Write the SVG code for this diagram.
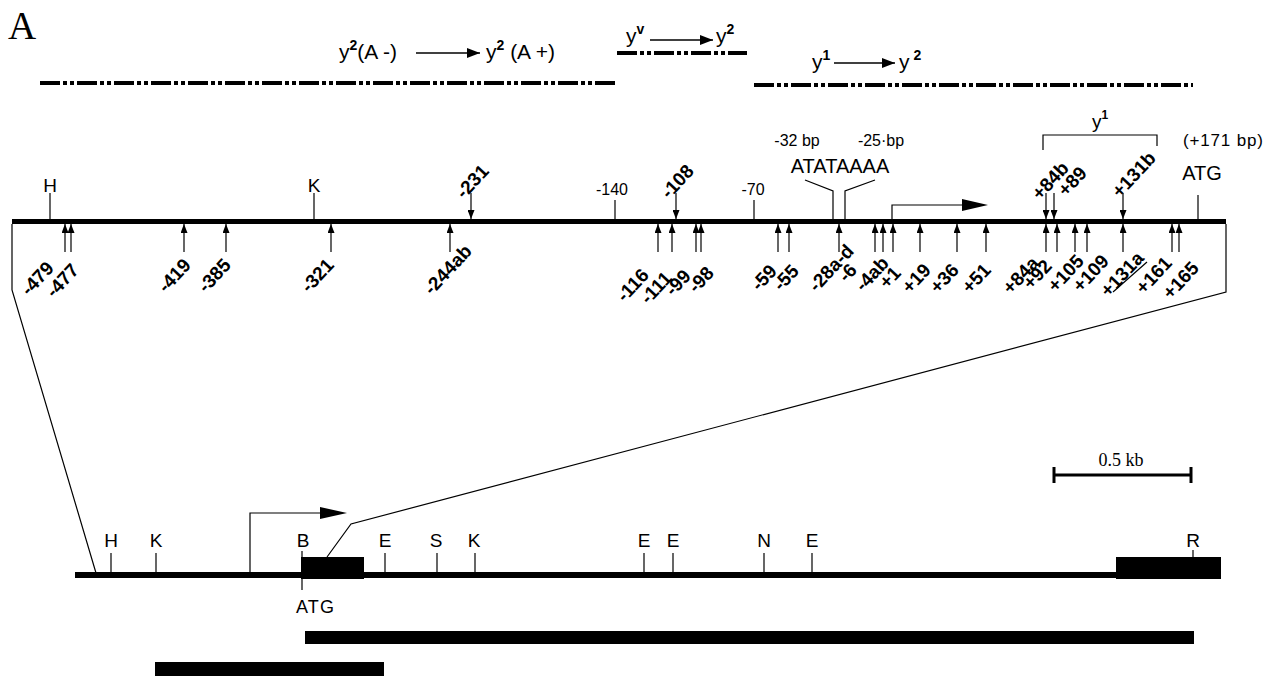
<svg xmlns="http://www.w3.org/2000/svg" width="1280" height="678" viewBox="0 0 1280 678">
<defs>
<marker id="ah" markerUnits="userSpaceOnUse" markerWidth="9" markerHeight="7" refX="9" refY="3.5" orient="auto"><path d="M0,0 L9,3.5 L0,7 z" fill="#000"/></marker>
<marker id="ah2" markerUnits="userSpaceOnUse" markerWidth="13" markerHeight="10" refX="13" refY="5" orient="auto"><path d="M0,0 L13,5 L0,10 z" fill="#000"/></marker>
</defs>
<style>
text{font-family:"Liberation Sans",Arial,sans-serif;fill:#000}
.ddl{stroke:#000;stroke-width:4;stroke-dasharray:20 3 4 3 4 3;fill:none}
.ln{stroke:#000;stroke-width:1.2;fill:none}
.arr{stroke:#000;stroke-width:1.2;fill:none;marker-end:url(#ah)}
.big{stroke:#000;stroke-width:1.3;fill:none;marker-end:url(#ah2)}
.lab{font-size:19px;font-weight:bold;text-anchor:end}
.site{font-size:19px}
.sm{font-size:16px}
.tt{font-size:21px}
</style>
<rect width="1280" height="678" fill="#fff"/>
<text x="8" y="39" style="font-family:'Liberation Serif',serif;font-size:39px">A</text>

<g id="conversions">
<line class="ddl" x1="40" y1="83" x2="617" y2="83"/>
<line class="ddl" x1="617" y1="53" x2="747" y2="53"/>
<line class="ddl" x1="754" y1="85" x2="1193" y2="85"/>
<text class="tt" x="339" y="59">y<tspan font-size="14" font-weight="bold" dy="-9">2</tspan><tspan dy="9">(A -)</tspan></text>
<line class="big" x1="416" y1="53" x2="480" y2="53"/>
<text class="tt" x="486" y="59">y<tspan font-size="14" font-weight="bold" dy="-9">2</tspan><tspan dy="9"> (A +)</tspan></text>
<text class="tt" x="626" y="43">y<tspan font-size="14" font-weight="bold" dy="-9">v</tspan></text>
<line class="big" x1="650" y1="40" x2="713" y2="40"/>
<text class="tt" x="716" y="43">y<tspan font-size="14" font-weight="bold" dy="-9">2</tspan></text>
<text class="tt" x="812" y="69">y<tspan font-size="14" font-weight="bold" dy="-9">1</tspan></text>
<line class="big" x1="834" y1="63" x2="895" y2="63"/>
<text class="tt" x="899" y="69">y<tspan font-size="14" font-weight="bold" dy="-9"> 2</tspan></text>
</g>

<g id="main-map">
<rect x="12" y="219" width="1214" height="5" fill="#000"/>
<line class="ln" x1="50" y1="193" x2="50" y2="220"/>
<text class="site" x="50" y="192" text-anchor="middle">H</text>
<line class="ln" x1="314" y1="193" x2="314" y2="220"/>
<text class="site" x="314" y="192" text-anchor="middle">K</text>
<line class="ln" x1="615" y1="200" x2="615" y2="220"/>
<text class="sm" x="612" y="195" text-anchor="middle">-140</text>
<line class="ln" x1="754" y1="200" x2="754" y2="220"/>
<text class="sm" x="753" y="195" text-anchor="middle">-70</text>
<line class="ln" x1="1198" y1="195" x2="1198" y2="220"/>
<text x="1202" y="180" text-anchor="middle" style="font-size:20px">ATG</text>
<text x="1223" y="146" text-anchor="middle" style="font-size:17px" textLength="80">(+171 bp)</text>
<polyline class="ln" points="805,180 833,191 833,220"/>
<polyline class="ln" points="875,180 845,191 845,220"/>
<text x="840" y="173" text-anchor="middle" style="font-size:20px">ATATAAAA</text>
<text class="sm" x="797" y="146" text-anchor="middle">-32 bp</text>
<text class="sm" x="881" y="146" text-anchor="middle">-25·bp</text>
<path class="ln" d="M892,220 V205 H965"/>
<polygon points="962,199 988,205 962,211" fill="#000"/>
<polyline class="ln" points="1043,150 1043,135 1157,135 1157,146"/>
<text x="1092" y="128" style="font-size:19px">y<tspan font-size="12" font-weight="bold" dy="-9">1</tspan></text>
</g>

<g id="connectors">
<line class="arr" x1="471" y1="193" x2="471" y2="219"/>
<line class="arr" x1="676" y1="193" x2="676" y2="219"/>
<line class="arr" x1="1046" y1="193" x2="1046" y2="219"/>
<line class="arr" x1="1054" y1="193" x2="1054" y2="219"/>
<line class="arr" x1="1123" y1="193" x2="1123" y2="219"/>
<line class="arr" x1="65" y1="252" x2="65" y2="224"/>
<line class="arr" x1="71" y1="252" x2="71" y2="224"/>
<line class="arr" x1="184" y1="252" x2="184" y2="224"/>
<line class="arr" x1="226" y1="252" x2="226" y2="224"/>
<line class="arr" x1="331" y1="252" x2="331" y2="224"/>
<line class="arr" x1="450" y1="252" x2="450" y2="224"/>
<line class="arr" x1="658" y1="252" x2="658" y2="224"/>
<line class="arr" x1="672" y1="252" x2="672" y2="224"/>
<line class="arr" x1="696" y1="252" x2="696" y2="224"/>
<line class="arr" x1="701" y1="252" x2="701" y2="224"/>
<line class="arr" x1="778" y1="252" x2="778" y2="224"/>
<line class="arr" x1="789" y1="252" x2="789" y2="224"/>
<line class="arr" x1="839" y1="252" x2="839" y2="224"/>
<line class="arr" x1="875" y1="252" x2="875" y2="224"/>
<line class="arr" x1="883" y1="252" x2="883" y2="224"/>
<line class="arr" x1="893" y1="252" x2="893" y2="224"/>
<line class="arr" x1="920" y1="252" x2="920" y2="224"/>
<line class="arr" x1="957" y1="252" x2="957" y2="224"/>
<line class="arr" x1="986" y1="252" x2="986" y2="224"/>
<line class="arr" x1="1046" y1="252" x2="1046" y2="224"/>
<line class="arr" x1="1057" y1="252" x2="1057" y2="224"/>
<line class="arr" x1="1075" y1="252" x2="1075" y2="224"/>
<line class="arr" x1="1087" y1="252" x2="1087" y2="224"/>
<line class="arr" x1="1123" y1="252" x2="1123" y2="224"/>
<line class="arr" x1="1172" y1="252" x2="1172" y2="224"/>
<line class="arr" x1="1179" y1="252" x2="1179" y2="224"/>
<polyline class="ln" points="12,224 12,290 96,573"/>
<polyline class="ln" points="1226,224 1226,292 351,524 327,557"/>
</g>

<g id="labels-above">
<text class="lab" transform="translate(490,172) rotate(-47)">-231</text>
<text class="lab" transform="translate(695,172) rotate(-47)">-108</text>
<text class="lab" transform="translate(1070,169) rotate(-47)">+84b</text>
<text class="lab" transform="translate(1088,174) rotate(-47)">+89</text>
<text class="lab" transform="translate(1157,159) rotate(-47)">+131b</text>
</g>

<g id="labels-below">
<text class="lab" transform="translate(55,269) rotate(-47)">-479</text>
<text class="lab" transform="translate(80,271) rotate(-47)">-477</text>
<text class="lab" transform="translate(192,266) rotate(-47)">-419</text>
<text class="lab" transform="translate(232,266) rotate(-47)">-385</text>
<text class="lab" transform="translate(335,266) rotate(-47)">-321</text>
<text class="lab" transform="translate(473,252) rotate(-47)">-244ab</text>
<text class="lab" transform="translate(650,276) rotate(-47)">-116</text>
<text class="lab" transform="translate(673,279) rotate(-47)">-111</text>
<text class="lab" transform="translate(692,277) rotate(-47)">-99</text>
<text class="lab" transform="translate(715,274) rotate(-47)">-98</text>
<text class="lab" transform="translate(778,272) rotate(-47)">-59</text>
<text class="lab" transform="translate(800,272) rotate(-47)">-55</text>
<text class="lab" transform="translate(855,252) rotate(-47)">-28a-d</text>
<text class="lab" transform="translate(858,271) rotate(-47)">-6</text>
<text class="lab" transform="translate(890,264) rotate(-47)">-4ab</text>
<text class="lab" transform="translate(902,274) rotate(-47)">+1</text>
<text class="lab" transform="translate(932,271) rotate(-47)">+19</text>
<text class="lab" transform="translate(960,271) rotate(-47)">+36</text>
<text class="lab" transform="translate(992,271) rotate(-47)">+51</text>
<text class="lab" transform="translate(1040,264) rotate(-47)">+84a</text>
<text class="lab" transform="translate(1053,267) rotate(-47)">+92</text>
<text class="lab" transform="translate(1085,262) rotate(-47)">+105</text>
<text class="lab" transform="translate(1110,262) rotate(-47)">+109</text>
<text class="lab" transform="translate(1145,259) rotate(-47)">+131a</text>
<line class="ln" x1="1113" y1="292" x2="1147" y2="262"/>
<text class="lab" transform="translate(1173,264) rotate(-47)">+161</text>
<text class="lab" transform="translate(1200,269) rotate(-47)">+165</text>
</g>

<g id="scale-bar">
<line x1="1053" y1="475" x2="1192" y2="475" stroke="#000" stroke-width="3"/>
<line x1="1054" y1="467" x2="1054" y2="483" stroke="#000" stroke-width="3"/>
<line x1="1191" y1="467" x2="1191" y2="483" stroke="#000" stroke-width="3"/>
<text x="1121" y="466" text-anchor="middle" style="font-family:'Liberation Serif',serif;font-size:18px">0.5 kb</text>
</g>

<g id="lower-map">
<rect x="75" y="572" width="1045" height="6" fill="#000"/>
<rect x="301" y="557" width="63" height="22" fill="#000"/>
<rect x="1116" y="557" width="105" height="22" fill="#000"/>
<path class="ln" d="M250,573 V513 H322"/>
<polygon points="320,507 347,513 320,519" fill="#000"/>
<line class="ln" x1="111" y1="553" x2="111" y2="573"/>
<text class="site" x="111" y="547" text-anchor="middle">H</text>
<line class="ln" x1="156" y1="553" x2="156" y2="573"/>
<text class="site" x="156" y="547" text-anchor="middle">K</text>
<line class="ln" x1="302" y1="551" x2="302" y2="590"/>
<text class="site" x="303" y="547" text-anchor="middle">B</text>
<text x="315" y="613" text-anchor="middle" style="font-size:18px" textLength="38">ATG</text>
<line class="ln" x1="385" y1="553" x2="385" y2="573"/>
<text class="site" x="385" y="547" text-anchor="middle">E</text>
<line class="ln" x1="437" y1="553" x2="437" y2="573"/>
<text class="site" x="436" y="547" text-anchor="middle">S</text>
<line class="ln" x1="475" y1="553" x2="475" y2="573"/>
<text class="site" x="474" y="547" text-anchor="middle">K</text>
<line class="ln" x1="644" y1="553" x2="644" y2="573"/>
<text class="site" x="644" y="547" text-anchor="middle">E</text>
<line class="ln" x1="673" y1="553" x2="673" y2="573"/>
<text class="site" x="673" y="547" text-anchor="middle">E</text>
<line class="ln" x1="764" y1="553" x2="764" y2="573"/>
<text class="site" x="764" y="547" text-anchor="middle">N</text>
<line class="ln" x1="812" y1="553" x2="812" y2="573"/>
<text class="site" x="812" y="547" text-anchor="middle">E</text>
<line class="ln" x1="1193" y1="550" x2="1193" y2="558"/>
<text class="site" x="1193" y="547" text-anchor="middle">R</text>
</g>

<g id="clones">
<rect x="305" y="631" width="889" height="13" fill="#000"/>
<rect x="155" y="662" width="229" height="14" fill="#000"/>
</g>
</svg>
